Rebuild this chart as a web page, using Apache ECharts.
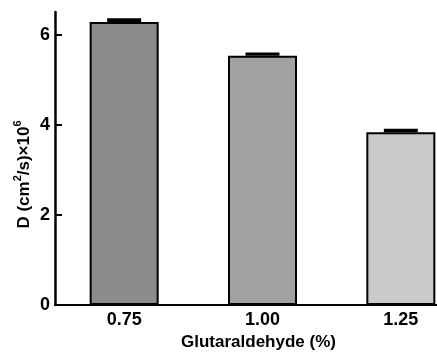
<!DOCTYPE html>
<html><head><meta charset="utf-8">
<script src="https://cdn.jsdelivr.net/npm/echarts@6/dist/echarts.min.js"></script>
<style>html,body{margin:0;padding:0;background:#fff}#c{width:437px;height:352px}</style>
</head><body><div id="c"></div>
<script>
const categories = ['0.75', '1.00', '1.25'];
const values = [6.28, 5.53, 3.83];
const errors = [0.08, 0.07, 0.08];
const barColors = ['#8c8c8c', '#a2a2a2', '#cacaca'];
const yTicks = [0, 2, 4, 6];

const chart = echarts.init(document.getElementById('c'));
const font = 'Liberation Sans, Arial, sans-serif';
chart.setOption({
  animation: false,
  grid: { left: 55, top: 12, bottom: 47, width: 415, outerBoundsMode: 'none', containLabel: false },
  xAxis: {
    type: 'category', data: categories,
    name: 'Glutaraldehyde (%)', nameLocation: 'middle', nameGap: 28,
    nameTextStyle: { fontFamily: font, fontSize: 17, fontWeight: 'bold', color: '#000', padding: [0, 0, 0, -8] },
    axisLine: { lineStyle: { color: '#000', width: 2 } },
    axisTick: { show: false },
    axisLabel: { fontFamily: font, fontSize: 18, fontWeight: 'bold', color: '#000', margin: 6 }
  },
  yAxis: {
    type: 'value', min: 0, max: 6.5, interval: 2,
    name: '{a|D (cm}{s|2}{a|/s)×10}{s|6}', nameLocation: 'middle', nameGap: 22, nameMoveOverlap: false,
    nameTextStyle: {
      fontFamily: font, fontSize: 17, fontWeight: 'bold', color: '#000', padding: [0, 32, 0, 0],
      rich: {
        a: { fontFamily: font, fontSize: 17, fontWeight: 'bold', color: '#000', lineHeight: 21, verticalAlign: 'bottom' },
        s: { fontFamily: font, fontSize: 11, fontWeight: 'bold', color: '#000', lineHeight: 21, verticalAlign: 'top' }
      }
    },
    axisLine: { show: true, lineStyle: { color: '#000', width: 2.5 } },
    axisTick: { show: true, inside: true, length: 7, customValues: yTicks, lineStyle: { color: '#000', width: 2 } },
    axisLabel: { customValues: yTicks, fontFamily: font, fontSize: 18, fontWeight: 'bold', color: '#000', margin: 5 },
    splitLine: { show: false }
  },
  series: [
    {
      type: 'bar', barWidth: 69,
      data: values.map((v, i) => ({ value: v, itemStyle: { color: barColors[i] } })),
      itemStyle: { borderColor: '#000', borderWidth: 2 }
    },
    {
      type: 'custom', z: 5,
      data: values.map((v, i) => [i, v, v + errors[i]]),
      renderItem: function (params, api) {
        const p0 = api.coord([api.value(0), api.value(1)]);
        const p1 = api.coord([api.value(0), api.value(2)]);
        return { type: 'rect', shape: { x: p0[0] - 17, y: p1[1], width: 34, height: p0[1] - p1[1] }, style: { fill: '#000' } };
      }
    }
  ]
});
</script></body></html>
